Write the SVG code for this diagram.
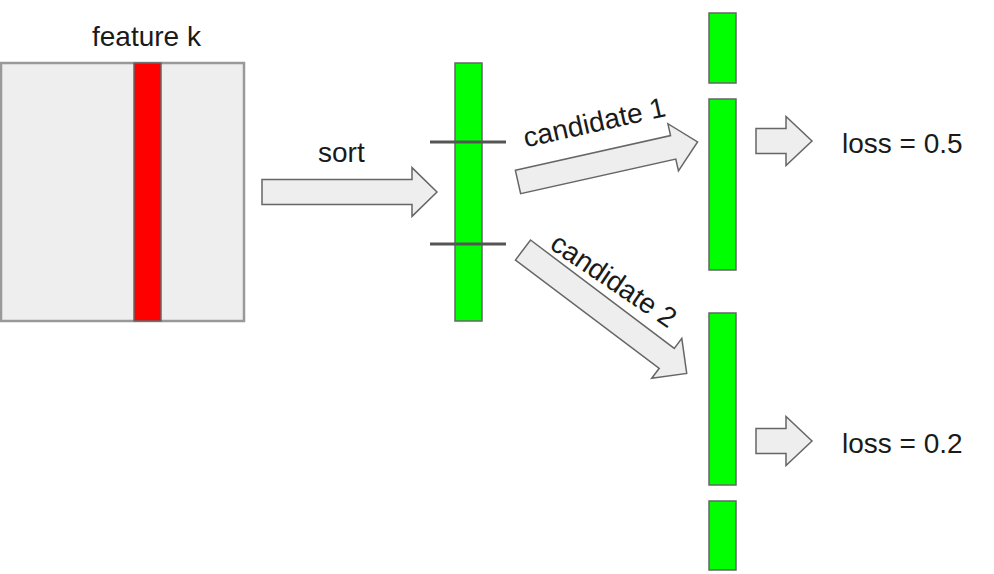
<svg xmlns="http://www.w3.org/2000/svg" width="994" height="574" viewBox="0 0 994 574">
<style>
text{font-family:"Liberation Sans",Arial,sans-serif;font-size:28px;fill:#1a1a1a}
.box{fill:#eeeeee;stroke:#999999;stroke-width:2.5}
.red{fill:#ff0000;stroke:#666666;stroke-width:1.5}
.green{fill:#00ff00;stroke:#666666;stroke-width:1.5}
.arrow{fill:#eeeeee;stroke:#666666;stroke-width:1.5;stroke-linejoin:miter}
.split{stroke:#555555;stroke-width:3}
</style>
<rect width="994" height="574" fill="#ffffff"/>
<g id="matrix">
<rect class="box" x="1" y="63" width="243" height="258"/>
<rect class="red" x="134" y="63" width="27" height="258"/>
<text x="92" y="46">feature k</text>
</g>
<g id="sorted">
<rect class="green" x="455" y="63" width="27" height="258"/>
<line class="split" x1="430" y1="142" x2="506" y2="142"/>
<line class="split" x1="430" y1="244" x2="506" y2="244"/>
</g>
<g id="split1">
<rect class="green" x="709" y="13" width="27" height="70"/>
<rect class="green" x="709" y="99" width="27" height="171"/>
</g>
<g id="split2">
<rect class="green" x="709" y="313" width="27" height="172"/>
<rect class="green" x="709" y="501" width="27" height="69"/>
</g>
<g id="loss1"><text x="842" y="153">loss = 0.5</text></g>
<g id="loss2"><text x="842" y="453">loss = 0.2</text></g>
<g id="connectors">
<g id="sort-arrow">
<path class="arrow" transform="translate(262,192)" d="M0,-12.4H150V-24.4L175,0L150,24.4V12.4H0Z"/>
<text x="318" y="162">sort</text>
</g>
<g id="cand1-arrow" transform="translate(518,182) rotate(-12.6)">
<path class="arrow" d="M0,-12H159V-24.2L184,0L159,24.2V12H0Z"/>
<text x="15" y="-32">candidate 1</text>
</g>
<g id="cand2-arrow" transform="translate(523,250) rotate(37)">
<path class="arrow" d="M0,-12.5H180V-25L205,0L180,25V12.5H0Z"/>
<text x="19" y="-17" transform="rotate(-3,19,-17)">candidate 2</text>
</g>
<path class="arrow" transform="translate(756,141)" d="M0,-12.5H30V-24.5L56,0L30,24.5V12.5H0Z"/>
<path class="arrow" transform="translate(756,441)" d="M0,-12.5H30V-24.5L56,0L30,24.5V12.5H0Z"/>
</g>
</svg>
